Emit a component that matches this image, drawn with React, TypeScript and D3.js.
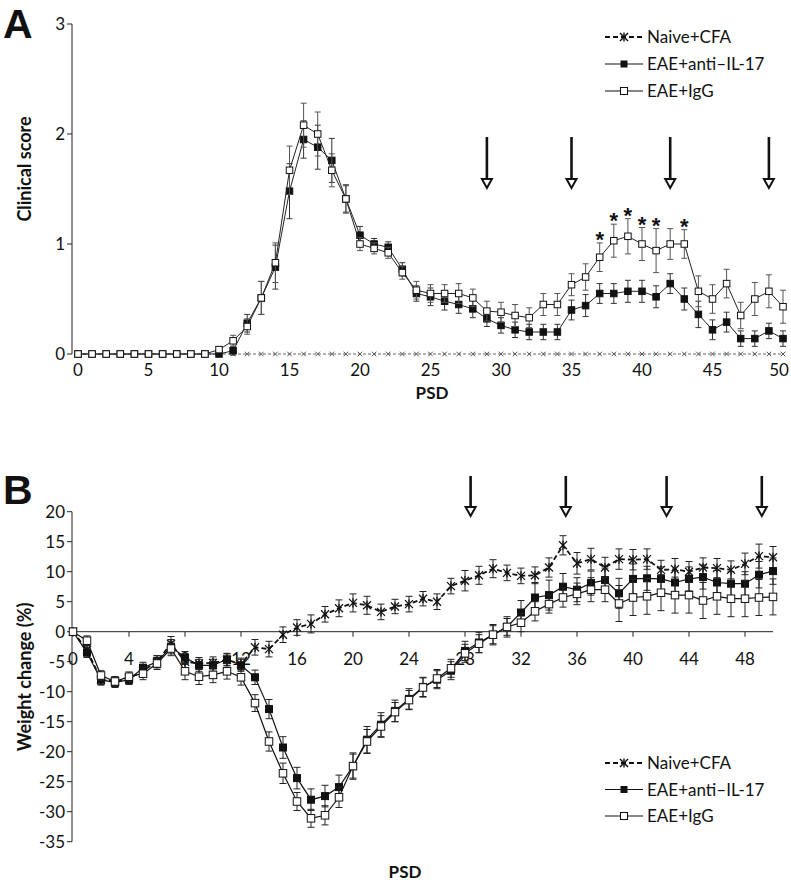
import React from 'react';
import * as d3 from 'd3';

// ---------- Data ----------
const days = [0,1,2,3,4,5,6,7,8,9,10,11,12,13,14,15,16,17,18,19,20,21,22,23,24,25,26,27,28,29,30,31,32,33,34,35,36,37,38,39,40,41,42,43,44,45,46,47,48,49,50];
const seriesNames = ['Naive+CFA', 'EAE+anti\u2013IL-17', 'EAE+IgG'];

// Panel A: clinical score
const naiveA = [0,0,0,0,0,0,0,0,0,0,0,0,0,0,0,0,0,0,0,0,0,0,0,0,0,0,0,0,0,0,0,0,0,0,0,0,0,0,0,0,0,0,0,0,0,0,0,0,0,0,0];
const antiA = [0,0,0,0,0,0,0,0,0,0,0.0,0.03,0.28,0.51,0.79,1.48,1.95,1.88,1.76,1.41,1.08,1.0,0.97,0.77,0.55,0.52,0.48,0.45,0.41,0.32,0.26,0.22,0.20,0.20,0.20,0.40,0.44,0.55,0.55,0.57,0.57,0.52,0.64,0.50,0.36,0.22,0.29,0.14,0.14,0.21,0.14];
const igA = [0,0,0,0,0,0,0,0,0,0,0.04,0.12,0.25,0.51,0.83,1.67,2.08,2.0,1.67,1.41,1.0,0.96,0.92,0.74,0.58,0.55,0.55,0.55,0.51,0.39,0.38,0.35,0.33,0.45,0.45,0.63,0.70,0.88,1.03,1.07,1.0,0.94,1.0,1.0,0.57,0.50,0.64,0.35,0.50,0.57,0.43];
const antiErrA = [0,0,0,0,0,0,0,0,0,0,0.02,0.04,0.08,0.15,0.2,0.25,0.17,0.2,0.2,0.12,0.08,0.05,0.05,0.06,0.07,0.08,0.08,0.08,0.08,0.07,0.07,0.07,0.07,0.07,0.07,0.09,0.1,0.09,0.09,0.1,0.1,0.1,0.09,0.1,0.12,0.09,0.09,0.07,0.07,0.07,0.07];
const igErrA = [0,0,0,0,0,0,0,0,0,0,0.02,0.05,0.07,0.15,0.18,0.22,0.2,0.2,0.15,0.13,0.06,0.05,0.05,0.06,0.08,0.08,0.08,0.09,0.08,0.09,0.09,0.1,0.09,0.1,0.1,0.1,0.12,0.13,0.15,0.16,0.15,0.2,0.14,0.13,0.14,0.13,0.13,0.12,0.15,0.15,0.15];
const sigDaysA = [37, 38, 39, 40, 41, 43];
const arrowDaysA = [29, 35, 42, 49];
const xTicksA = [0,5,10,15,20,25,30,35,40,45,50];
const yTicksA = [0,1,2,3];

// Panel B: weight change (%)
const naiveB = [0,-3.0,-8.0,-8.3,-7.8,-6.5,-5.0,-2.0,-5.0,-5.3,-5.2,-4.7,-5.4,-2.6,-2.9,-0.5,0.7,1.3,2.9,3.9,4.8,4.4,3.3,4.2,4.6,5.5,5.0,7.6,8.5,9.4,10.5,9.8,9.3,9.4,10.7,14.4,11.4,12.1,10.7,12.1,12.0,12.1,10.3,10.4,10.0,10.7,10.6,10.3,11.3,12.6,12.4];
const antiB = [0,-3.5,-8.0,-8.5,-8.0,-6.0,-5.0,-2.5,-4.3,-5.6,-5.6,-4.6,-5.6,-7.6,-12.9,-19.3,-24.4,-28.0,-27.4,-25.9,-22.4,-18.0,-15.5,-13.2,-11.2,-9.2,-8.0,-6.5,-3.2,-1.8,-0.5,0.8,3.2,5.7,6.1,7.5,7.0,8.1,8.6,6.4,8.8,8.9,8.8,8.2,8.8,9.1,8.2,8.0,8.0,9.5,10.1];
const igB = [0,-1.5,-7.3,-8.3,-7.5,-7.0,-5.3,-2.8,-6.6,-7.5,-7.2,-6.6,-7.6,-11.9,-18.3,-23.6,-28.3,-31.1,-30.6,-27.6,-22.4,-18.3,-15.8,-13.4,-11.4,-9.3,-7.8,-6.1,-3.6,-2.0,-0.5,0.8,1.5,3.4,4.6,5.7,6.3,7.0,7.0,4.7,5.7,5.9,6.5,6.1,6.1,5.2,5.9,5.5,5.5,5.7,5.8];
const naiveErrB = [0.3,0.8,0.9,0.8,0.8,0.9,1.0,1.2,1.2,1.0,1.0,1.0,1.0,1.3,1.3,1.3,1.3,1.5,1.3,1.4,1.5,1.5,1.3,1.2,1.3,1.2,1.3,1.3,1.7,1.5,1.5,1.3,1.3,1.4,1.6,1.6,1.8,1.8,1.7,1.7,1.7,1.7,1.6,1.8,1.7,1.6,1.6,1.5,1.8,2.0,1.8];
const antiErrB = [0.3,0.8,0.8,0.8,0.8,0.9,1.0,1.2,1.0,1.0,1.0,1.0,1.0,1.2,1.6,1.8,1.8,1.8,1.8,2.0,2.2,2.2,2.0,1.8,1.7,1.6,1.5,1.5,1.6,1.7,1.7,1.7,2.0,2.5,2.5,2.2,2.0,2.0,2.0,2.5,2.5,2.0,2.0,2.0,2.0,2.0,2.0,2.0,2.0,2.2,2.2];
const igErrB = [0.3,0.8,0.8,0.8,0.8,1.0,1.0,1.2,1.4,1.3,1.3,1.3,1.3,1.4,1.6,1.7,1.5,1.5,1.6,1.7,2.0,2.0,1.8,1.6,1.6,1.6,1.5,1.5,1.5,1.5,1.5,1.4,1.5,1.6,1.5,1.6,1.8,2.0,2.0,3.0,3.0,3.0,3.0,3.0,3.0,3.0,3.0,3.0,3.0,3.0,3.0];
const arrowDaysB = [28.4, 35.2, 42.4, 49.2];
const xTicksB = [0,4,8,12,16,20,24,28,32,36,40,44,48];
const yTicksB = [20,15,10,5,0,-5,-10,-15,-20,-25,-30,-35];

const FONT = "Lato, 'Open Sans', 'DejaVu Sans', sans-serif";
const FS = 17;

type Scale = d3.ScaleLinear<number, number>;

function ErrorBars({ vals, errs, x, y, cap, color, width }: { vals: number[]; errs: number[]; x: Scale; y: Scale; cap: number; color: string; width: number }) {
  return (
    <g stroke={color} strokeWidth={width} fill="none">
      {vals.map((v, i) => {
        const e = errs[i];
        if (!e) return null;
        const cx = x(days[i]);
        const y1 = y(v + e);
        const y2 = y(v - e);
        return (
          <g key={i}>
            <line x1={cx} x2={cx} y1={y1} y2={y2} />
            <line x1={cx - cap} x2={cx + cap} y1={y1} y2={y1} />
            <line x1={cx - cap} x2={cx + cap} y1={y2} y2={y2} />
          </g>
        );
      })}
    </g>
  );
}

function Squares({ vals, x, y, size, filled }: { vals: number[]; x: Scale; y: Scale; size: number; filled: boolean }) {
  return (
    <g>
      {vals.map((v, i) => (
        <rect key={i} x={x(days[i]) - size / 2} y={y(v) - size / 2} width={size} height={size}
          fill={filled ? '#111' : '#fff'} stroke="#111" strokeWidth={1} />
      ))}
    </g>
  );
}

function StarMark({ cx, cy, r, stroke, sw, vertical }: { cx: number; cy: number; r: number; stroke: string; sw: number; vertical: boolean }) {
  return (
    <g stroke={stroke} strokeWidth={sw}>
      <line x1={cx - r} y1={cy - r} x2={cx + r} y2={cy + r} />
      <line x1={cx - r} y1={cy + r} x2={cx + r} y2={cy - r} />
      {vertical && <line x1={cx} y1={cy - r * 1.15} x2={cx} y2={cy + r * 1.15} />}
    </g>
  );
}

function Arrow({ x, y1, y2 }: { x: number; y1: number; y2: number }) {
  const hw = 5, hh = 9;
  return (
    <g>
      <line x1={x} x2={x} y1={y1} y2={y2 - hh} stroke="#111" strokeWidth={2.6} />
      <path d={`M${x - hw},${y2 - hh} L${x + hw},${y2 - hh} L${x},${y2} Z`} fill="#fff" stroke="#111" strokeWidth={2} strokeLinejoin="miter" />
    </g>
  );
}

function Legend({ x0, y0, dy }: { x0: number; y0: number; dy: number }) {
  const sx1 = x0, sx2 = x0 + 38, mx = x0 + 19, tx = x0 + 42;
  return (
    <g fontFamily={FONT} fontSize={FS} fill="#111">
      <line x1={sx1} x2={sx2} y1={y0} y2={y0} stroke="#111" strokeWidth={1.8} strokeDasharray="5,3" />
      <StarMark cx={mx} cy={y0} r={4} stroke="#111" sw={1.4} vertical={true} />
      <text x={tx} y={y0 + 6}>{seriesNames[0]}</text>
      <line x1={sx1} x2={sx2} y1={y0 + dy} y2={y0 + dy} stroke="#111" strokeWidth={1.2} />
      <rect x={mx - 3.5} y={y0 + dy - 3.5} width={7} height={7} fill="#111" />
      <text x={tx} y={y0 + dy + 6}>{seriesNames[1]}</text>
      <line x1={sx1} x2={sx2} y1={y0 + 2 * dy} y2={y0 + 2 * dy} stroke="#111" strokeWidth={1.2} />
      <rect x={mx - 3.5} y={y0 + 2 * dy - 3.5} width={7} height={7} fill="#fff" stroke="#111" strokeWidth={1} />
      <text x={tx} y={y0 + 2 * dy + 6}>{seriesNames[2]}</text>
    </g>
  );
}

export default function App() {
  const W = 791, H = 882;
  const xA = d3.scaleLinear().domain([0, 50]).range([78, 783]);
  const yA = d3.scaleLinear().domain([0, 3]).range([354, 24]);
  const xB = d3.scaleLinear().domain([0, 50]).range([73, 773]);
  const yB = d3.scaleLinear().domain([-35, 20]).range([841.7, 511.7]);

  const lineA = (vals: number[]) => d3.line<number>().x((_, i) => xA(days[i])).y(v => yA(v))(vals) || '';
  const lineB = (vals: number[]) => d3.line<number>().x((_, i) => xB(days[i])).y(v => yB(v))(vals) || '';

  return (
    <div style={{ position: 'absolute', left: 0, top: 0 }}>
      <svg width={W} height={H} style={{ display: 'block', background: '#fff' }} fontFamily={FONT}>
        {/* ================= Panel A ================= */}
        <text x={3} y={38} fontFamily="'Liberation Sans', Arial, sans-serif" fontWeight="bold" fontSize={41} fill="#111">A</text>
        <line x1={72} x2={72} y1={yA(3)} y2={yA(0)} stroke="#222" strokeWidth={1} />
        {yTicksA.map(t => (
          <g key={t}>
            <line x1={67} x2={72} y1={yA(t)} y2={yA(t)} stroke="#222" />
            <text x={65} y={yA(t) + 6} textAnchor="end" fontSize={FS} fill="#111">{t}</text>
          </g>
        ))}
        {xTicksA.map(t => (
          <text key={t} x={Math.min(xA(t), 779)} y={376} textAnchor="middle" fontSize={FS} fill="#111">{t}</text>
        ))}
        <text x={432} y={399} textAnchor="middle" fontWeight="bold" fontSize={17} fill="#111">PSD</text>
        <text transform={`translate(31,169) rotate(-90)`} textAnchor="middle" fontWeight="bold" fontSize={18} fill="#111">Clinical score</text>

        {/* Naive A */}
        <path d={lineA(naiveA)} fill="none" stroke="#666" strokeWidth={1} strokeDasharray="3,2" />
        {naiveA.map((v, i) => (
          <StarMark key={i} cx={xA(days[i])} cy={yA(v)} r={2.3} stroke="#555" sw={1} vertical={false} />
        ))}
        {/* anti-IL-17 A */}
        <ErrorBars vals={antiA} errs={antiErrA} x={xA} y={yA} cap={3} color="#333" width={1} />
        <path d={lineA(antiA)} fill="none" stroke="#222" strokeWidth={1} />
        <Squares vals={antiA} x={xA} y={yA} size={6.5} filled={true} />
        {/* IgG A */}
        <ErrorBars vals={igA} errs={igErrA} x={xA} y={yA} cap={3} color="#555" width={1} />
        <path d={lineA(igA)} fill="none" stroke="#222" strokeWidth={1} />
        <Squares vals={igA} x={xA} y={yA} size={6.5} filled={false} />

        {/* asterisks */}
        {sigDaysA.map(d => (
          <text key={d} x={xA(d)} y={yA(igA[d] + igErrA[d]) + 4} textAnchor="middle" fontFamily="'Liberation Sans', Arial, sans-serif" fontWeight="bold" fontSize={22} fill="#111">*</text>
        ))}
        {arrowDaysA.map(d => <Arrow key={d} x={xA(d)} y1={137} y2={188} />)}

        <Legend x0={605} y0={37} dy={27} />

        {/* ================= Panel B ================= */}
        <text x={3} y={504} fontFamily="'Liberation Sans', Arial, sans-serif" fontWeight="bold" fontSize={41} fill="#111">B</text>
        <line x1={72} x2={72} y1={yB(20)} y2={yB(-35)} stroke="#222" strokeWidth={1} />
        {yTicksB.map(t => (
          <g key={t}>
            <line x1={67} x2={72} y1={yB(t)} y2={yB(t)} stroke="#222" />
            <text x={65} y={yB(t) + 6} textAnchor="end" fontSize={FS} fill="#111">{t}</text>
          </g>
        ))}
        <line x1={72} x2={xB(50)} y1={yB(0)} y2={yB(0)} stroke="#222" strokeWidth={1} />
        {xTicksB.map(t => (
          <g key={t}>
            <line x1={xB(t)} x2={xB(t)} y1={yB(0)} y2={yB(0) + 5} stroke="#222" />
            <text x={xB(t)} y={665} textAnchor="middle" fontSize={FS} fill="#111">{t}</text>
          </g>
        ))}
        <text x={405} y={878} textAnchor="middle" fontWeight="bold" fontSize={17} fill="#111">PSD</text>
        <text transform={`translate(31,677) rotate(-90)`} textAnchor="middle" fontWeight="bold" fontSize={18} fill="#111">Weight change (%)</text>

        {/* Naive B */}
        <ErrorBars vals={naiveB} errs={naiveErrB} x={xB} y={yB} cap={3.5} color="#222" width={1} />
        <path d={lineB(naiveB)} fill="none" stroke="#111" strokeWidth={1.8} strokeDasharray="5,3" />
        {naiveB.map((v, i) => (
          <StarMark key={i} cx={xB(days[i])} cy={yB(v)} r={4} stroke="#111" sw={1.3} vertical={true} />
        ))}
        {/* anti B */}
        <ErrorBars vals={antiB} errs={antiErrB} x={xB} y={yB} cap={3.5} color="#222" width={1} />
        <path d={lineB(antiB)} fill="none" stroke="#111" strokeWidth={1.2} />
        <Squares vals={antiB} x={xB} y={yB} size={7} filled={true} />
        {/* IgG B */}
        <ErrorBars vals={igB} errs={igErrB} x={xB} y={yB} cap={3.5} color="#222" width={1} />
        <path d={lineB(igB)} fill="none" stroke="#111" strokeWidth={1.2} />
        <Squares vals={igB} x={xB} y={yB} size={7.5} filled={false} />

        {arrowDaysB.map(d => <Arrow key={d} x={xB(d)} y1={476} y2={516} />)}

        <Legend x0={605} y0={763} dy={26.5} />
      </svg>
    </div>
  );
}
